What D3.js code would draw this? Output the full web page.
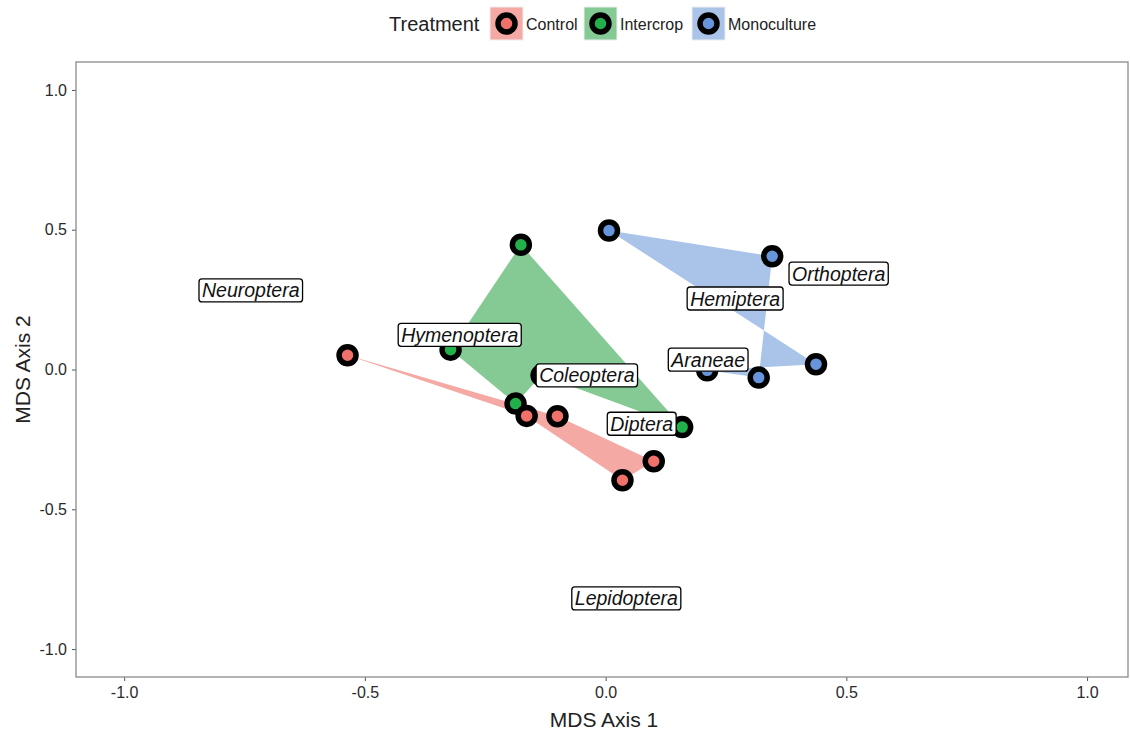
<!DOCTYPE html>
<html>
<head>
<meta charset="utf-8">
<script src="https://cdn.jsdelivr.net/npm/d3@7"></script>
<style>
  body { margin: 0; background: #fff; }
  text { font-family: "Liberation Sans", Arial, sans-serif; }
  .tick text { font-size: 16px; fill: #2a2a2a; }
  .tick line { stroke: #555; }
</style>
</head>
<body>
<div id="chart"></div>
<script>
// groups (polygon drawn in data order, like geom_polygon)
const treatments = ['Control', 'Intercrop', 'Monoculture']

const controlX = [-0.536, -0.100, 0.100, 0.035, -0.164]
const controlY = [0.051, -0.167, -0.328, -0.396, -0.166]

const intercropX = [-0.176, 0.159, -0.133, -0.187, -0.322]
const intercropY = [0.446, -0.206, -0.021, -0.122, 0.071]

const monoX = [0.007, 0.346, 0.318, 0.211, 0.437]
const monoY = [0.497, 0.405, -0.029, -0.003, 0.019]

// species scores
const speciesNames = ['Neuroptera', 'Hymenoptera', 'Coleoptera', 'Diptera', 'Araneae', 'Hemiptera', 'Orthoptera', 'Lepidoptera']
const speciesX = [-0.737, -0.303, -0.039, 0.075, 0.213, 0.269, 0.484, 0.043]
const speciesY = [0.283, 0.124, -0.021, -0.194, 0.035, 0.254, 0.343, -0.819]

const tickValues = [-1.0, -0.5, 0.0, 0.5, 1.0]

const pointColor = { Control: '#F0706A', Intercrop: '#22B04A', Monoculture: '#6795DC' }
const hullColor = { Control: '#F4A9A5', Intercrop: '#85CA95', Monoculture: '#A9C4E8' }

const width = 1130, height = 733
const panel = { left: 76, right: 1128, top: 62, bottom: 677 }

const svg = d3.select('#chart').append('svg')
    .attr('width', width)
    .attr('height', height)

const xScale = d3.scaleLinear().domain([-1.1, 1.085]).range([panel.left, panel.right])
const yScale = d3.scaleLinear().domain([-1.1, 1.1]).range([panel.bottom, panel.top])

const groups = [
    { key: 'Intercrop', x: intercropX, y: intercropY },
    { key: 'Control', x: controlX, y: controlY },
    { key: 'Monoculture', x: monoX, y: monoY }
].map(g => ({ key: g.key, pts: g.x.map((v, i) => [v, g.y[i]]) }))

// axes
const fmt = d => d.toFixed(1)
const xAxis = d3.axisBottom(xScale).tickValues(tickValues).tickFormat(fmt).tickSize(4).tickPadding(6)
const yAxis = d3.axisLeft(yScale).tickValues(tickValues).tickFormat(fmt).tickSize(4).tickPadding(5)

svg.append('g')
    .attr('transform', `translate(0,${panel.bottom})`)
    .call(xAxis)
    .call(g => g.select('.domain').remove())

svg.append('g')
    .attr('transform', `translate(${panel.left},0)`)
    .call(yAxis)
    .call(g => g.select('.domain').remove())

// panel border
svg.append('rect')
    .attr('x', panel.left).attr('y', panel.top)
    .attr('width', panel.right - panel.left)
    .attr('height', panel.bottom - panel.top)
    .attr('fill', 'none')
    .attr('stroke', '#8a8a8a')
    .attr('stroke-width', 1.3)

const plotG = svg.append('g')

// polygons
const line = d3.line().x(d => xScale(d[0])).y(d => yScale(d[1]))
plotG.selectAll('.hull').data(groups).join('path')
    .attr('class', 'hull')
    .attr('d', d => line(d.pts) + 'Z')
    .attr('fill', d => hullColor[d.key])
    .attr('stroke', 'none')

// points
groups.forEach(g => {
    plotG.append('g').selectAll('circle').data(g.pts).join('circle')
        .attr('cx', d => xScale(d[0]))
        .attr('cy', d => yScale(d[1]))
        .attr('r', 8.5)
        .attr('fill', pointColor[g.key])
        .attr('stroke', '#000')
        .attr('stroke-width', 5.5)
})

// species labels
const labelG = plotG.selectAll('.sp').data(speciesNames).join('g')
    .attr('class', 'sp')
    .attr('transform', (d, i) => `translate(${xScale(speciesX[i])},${yScale(speciesY[i])})`)

labelG.append('rect')
labelG.append('text')
    .attr('text-anchor', 'middle')
    .attr('dy', '0.36em')
    .attr('font-size', 19.5)
    .attr('font-style', 'italic')
    .attr('fill', '#111')
    .text(d => d)

labelG.each(function () {
    const g = d3.select(this)
    const w = g.select('text').node().getComputedTextLength()
    g.select('rect')
        .attr('x', -w / 2 - 3).attr('y', -11.5)
        .attr('width', w + 6).attr('height', 23)
        .attr('rx', 3)
        .attr('fill', '#fff')
        .attr('stroke', '#000')
        .attr('stroke-width', 1.3)
})

// axis titles
svg.append('text')
    .attr('x', (panel.left + panel.right) / 2 + 2)
    .attr('y', 727)
    .attr('text-anchor', 'middle')
    .attr('font-size', 21)
    .attr('fill', '#222')
    .text('MDS Axis 1')

svg.append('text')
    .attr('transform', `translate(30,${(panel.top + panel.bottom) / 2}) rotate(-90)`)
    .attr('text-anchor', 'middle')
    .attr('font-size', 21)
    .attr('fill', '#222')
    .text('MDS Axis 2')

// legend
const legend = svg.append('g')
legend.append('text')
    .attr('x', 389).attr('y', 31)
    .attr('font-size', 20)
    .attr('fill', '#222')
    .text('Treatment')

const keyX = [490, 584, 692]
const legItem = legend.selectAll('.key').data(treatments).join('g')
    .attr('class', 'key')
    .attr('transform', (d, i) => `translate(${keyX[i]},7)`)

legItem.append('rect')
    .attr('width', 33).attr('height', 33)
    .attr('fill', d => hullColor[d])
    .attr('stroke', '#eee')
legItem.append('circle')
    .attr('cx', 16.5).attr('cy', 16.5).attr('r', 8.5)
    .attr('fill', d => pointColor[d])
    .attr('stroke', '#000')
    .attr('stroke-width', 5.5)
legItem.append('text')
    .attr('x', 36).attr('y', 23)
    .attr('font-size', 16)
    .attr('fill', '#222')
    .text(d => d)
</script>
</body>
</html>
